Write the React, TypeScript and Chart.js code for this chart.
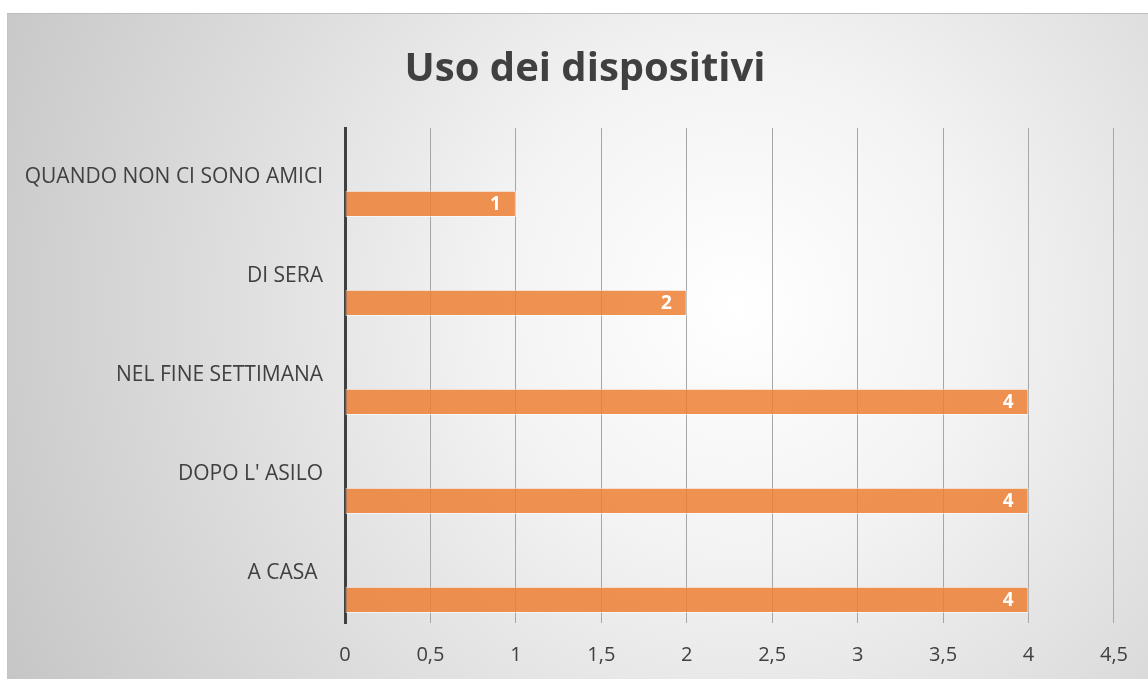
import React, { useEffect, useRef } from "react";
import { Chart, registerables } from "chart.js";

Chart.register(...registerables);

const TITLE = "Uso dei dispositivi";
const categories = [
  "QUANDO NON CI SONO AMICI",
  "DI SERA",
  "NEL FINE SETTIMANA",
  "DOPO L' ASILO",
  "A CASA ",
];
const emptySeriesA: (number | null)[] = [null, null, null, null, null];
const emptySeriesB: (number | null)[] = [null, null, null, null, null];
const values = [1, 2, 4, 4, 4];
const xTicks = [0, 0.5, 1, 1.5, 2, 2.5, 3, 3.5, 4, 4.5];

const FONT = "'Open Sans', 'DejaVu Sans', sans-serif";
const TEXT = "#404040";

export default function App() {
  const ref = useRef<HTMLCanvasElement | null>(null);

  useEffect(() => {
    if (!ref.current) return;
    const titlePlugin = {
      id: "customTitle",
      afterDraw(chart: any) {
        const ctx = chart.ctx;
        ctx.save();
        ctx.fillStyle = TEXT;
        ctx.font = `bold 40px ${FONT}`;
        ctx.textAlign = "center";
        ctx.textBaseline = "alphabetic";
        ctx.fillText(TITLE, 577, 67);
        ctx.restore();
      },
    };
    const labelPlugin = {
      id: "barLabels",
      afterDatasetsDraw(chart: any) {
        const ctx = chart.ctx;
        const meta = chart.getDatasetMeta(2);
        ctx.save();
        ctx.fillStyle = "#ffffff";
        ctx.font = `bold 19px ${FONT}`;
        ctx.textAlign = "right";
        ctx.textBaseline = "middle";
        meta.data.forEach((el: any, i: number) => {
          const v = values[i];
          if (v == null) return;
          ctx.fillText(String(v), el.x - 15, el.y + 1);
        });
        ctx.restore();
      },
    };
    const chart = new Chart(ref.current, {
      type: "bar",
      data: {
        labels: categories,
        datasets: [
          { label: "Serie1", data: emptySeriesA, backgroundColor: "rgba(0,0,0,0)" },
          { label: "Serie2", data: emptySeriesB, backgroundColor: "rgba(0,0,0,0)" },
          {
            label: "Serie3",
            data: values,
            backgroundColor: "rgba(237,125,49,0.84)",
            borderColor: "rgba(255,255,255,0.6)",
            borderWidth: 1,
            borderSkipped: false,
          },
        ],
      },
      options: {
        indexAxis: "y",
        animation: false,
        responsive: false,
        maintainAspectRatio: false,
        layout: { padding: { top: 114, right: 29, bottom: 0, left: 0 } },
        datasets: {
          bar: { categoryPercentage: 0.8, barPercentage: 1 },
        },
        plugins: {
          legend: { display: false },
          title: { display: false },
          tooltip: { enabled: false },
        },
        scales: {
          x: {
            type: "linear",
            min: 0,
            max: 4.5,
            afterBuildTicks: (scale: any) => {
              scale.ticks = xTicks.map((v) => ({ value: v }));
            },
            afterFit: (scale: any) => {
              scale.height = 56;
            },
            grid: {
              color: "#a6a6a6",
              lineWidth: 1,
              drawTicks: false,
            },
            border: { display: false },
            ticks: {
              padding: 20,
              color: TEXT,
              font: { family: FONT, size: 20 },
              callback: (v: any) => String(v).replace(".", ","),
            },
          },
          y: {
            type: "category",
            afterFit: (scale: any) => {
              scale.width = 337;
            },
            grid: { display: false, drawTicks: false },
            border: { display: true, color: "#404040", width: 3 },
            ticks: {
              padding: 22,
              color: TEXT,
              font: { family: FONT, size: 21 },
            },
          },
        },
      },
      plugins: [titlePlugin, labelPlugin],
    } as any);
    return () => chart.destroy();
  }, []);

  return (
    <div
      style={{
        position: "absolute",
        left: 7,
        top: 13,
        width: 1141,
        height: 666,
        borderTop: "1px solid #bdbdbd",
        borderLeft: "1px solid #c4c4c4",
        background:
          "radial-gradient(circle farthest-corner at 64% 44%, #ffffff 0%, #f3f3f3 30%, #dcdcdc 65%, #c6c6c6 100%)",
        boxSizing: "border-box",
      }}
    >
      <canvas ref={ref} width={1140} height={665} style={{ display: "block" }} />
    </div>
  );
}
